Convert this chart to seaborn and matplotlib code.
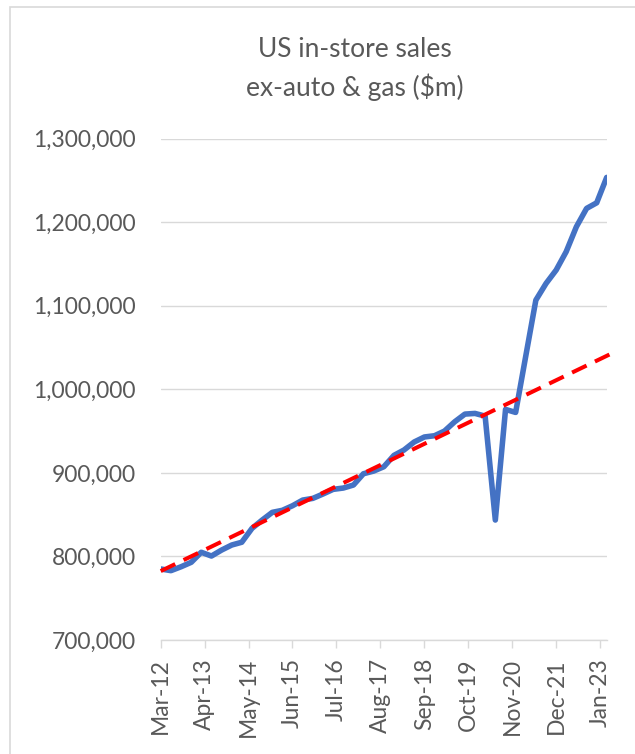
#
# US in-store sales ex-auto & gas, quarterly, with linear trend
#
import numpy as np
import pandas as pd
import matplotlib
matplotlib.use('Agg')
import matplotlib.pyplot as plt
import matplotlib.dates as mdates
from matplotlib.ticker import FuncFormatter
from matplotlib.patches import Rectangle
import seaborn as sns

# data ($m)
start_date = '2012-03-01'
sales = [785000, 783000, 787700, 793000, 805000, 800500, 807700, 813700, 817000, 833600,
         843600, 852800, 855200, 860700, 867500, 869500, 874700, 880300, 881900, 885500,
         899000, 902200, 907400, 921000, 927400, 937000, 943000, 944500, 950100, 961200,
         970400, 971200, 968000, 843600, 976000, 972400, 1039000, 1106800, 1126800, 1142800,
         1164700, 1194600, 1216600, 1223300, 1253700]
# trend line end points (Mar-12 and one quarter past the last point)
trend_dates = ['2012-03-01', '2023-06-01']
trend_values = [782500, 1046000]
y_ticks = [700000, 800000, 900000, 1000000, 1100000, 1200000, 1300000]
title = 'US in-store sales\nex-auto & gas ($m)'

dates = pd.date_range(start_date, periods=len(sales), freq='3MS')
df = pd.DataFrame({'date': dates, 'sales': sales})
trend = pd.DataFrame({'date': pd.to_datetime(trend_dates), 'trend': trend_values})

#---
# plotting
#---
sns.set_style('white')
plt.rcParams['font.family'] = ['Lato', 'DejaVu Sans']
grey = '#595959'

fig = plt.figure(figsize=(6.35, 7.54), dpi=100)
ax = fig.add_axes([0.2531, 0.1512, 0.9554 - 0.2531, 0.8160 - 0.1512])

sns.lineplot(data=df, x='date', y='sales', ax=ax, color='#4472C4', linewidth=4.0,
             solid_joinstyle='round', solid_capstyle='round', zorder=3)
sns.lineplot(data=trend, x='date', y='trend', ax=ax, color='#FF0000', linewidth=2.9,
             zorder=4, clip_on=False)
ax.lines[-1].set_dashes((4, 2.3))

ax.set_xlim(dates[0], dates[-1])
ax.set_ylim(y_ticks[0], y_ticks[-1])
ax.set_yticks(y_ticks)
ax.yaxis.set_major_formatter(FuncFormatter(lambda v, p: f'{int(v):,}'))
x_ticks = pd.date_range(start_date, dates[-1], freq='13MS')
ax.set_xticks(x_ticks)
ax.xaxis.set_major_formatter(mdates.DateFormatter('%b-%y'))
plt.setp(ax.get_xticklabels(), rotation=90)

ax.grid(axis='y', color='#D9D9D9', linewidth=1.0)
ax.set_axisbelow(True)
for s in ['top', 'right', 'left']:
    ax.spines[s].set_visible(False)
ax.spines['bottom'].set_color('#D9D9D9')
ax.spines['bottom'].set_linewidth(1.0)
ax.tick_params(axis='y', length=0, pad=18, labelsize=16.5, labelcolor=grey)
ax.tick_params(axis='x', length=6, width=1.0, color='#D9D9D9', direction='out',
               pad=7, labelsize=16.5, labelcolor=grey, bottom=True)
ax.set_xlabel('')
ax.set_ylabel('')
if ax.get_legend():
    ax.get_legend().remove()

fig.text(355 / 635, 1 - 69 / 754, title, ha='center', va='center', fontsize=19,
         color=grey, linespacing=1.55)

# chart border
fig.patches.append(Rectangle((10 / 635, -0.1), 1.2, 1 - 7 / 754 + 0.1,
                             transform=fig.transFigure, fill=False,
                             edgecolor='#D9D9D9', linewidth=1.2))

fig.savefig('out.png', dpi=100)
plt.close()
